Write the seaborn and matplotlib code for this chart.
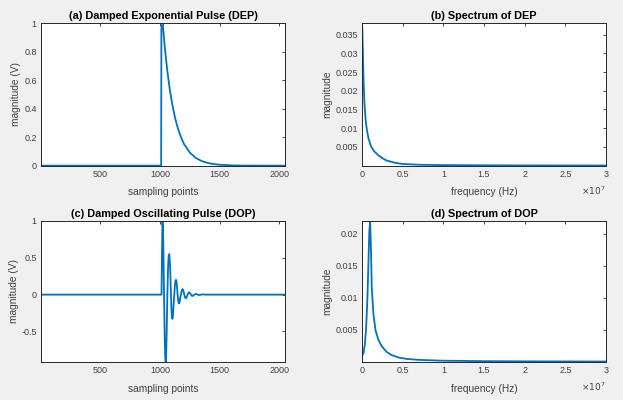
import numpy as np
import pandas as pd
import matplotlib
matplotlib.use("Agg")
import matplotlib.pyplot as plt
import seaborn as sns

# (a) damped exponential pulse
dep_x = [1, 1009, 1011, 1022, 1040, 1060, 1080, 1100, 1125, 1150, 1175, 1200,
         1250, 1300, 1350, 1400, 1450, 1500, 1600, 1700, 2048]
dep_y = [0, 0, 0.97, 1.0, 0.827, 0.670, 0.543, 0.440, 0.338, 0.260, 0.200, 0.153,
         0.091, 0.054, 0.032, 0.019, 0.011, 0.0065, 0.0023, 0.0008, 0]

# (b) spectrum of DEP (Hz)
dep_f = [0, 0.005e7, 0.01e7, 0.015e7, 0.02e7, 0.03e7, 0.045e7, 0.06e7, 0.08e7,
         0.11e7, 0.15e7, 0.2e7, 0.25e7, 0.3e7, 0.4e7, 0.5e7, 0.7e7, 1.0e7,
         1.5e7, 2.0e7, 3.0e7]
dep_mag = [0.038, 0.0355, 0.031, 0.026, 0.022, 0.0165, 0.012, 0.0095, 0.0072,
           0.0052, 0.0038, 0.0028, 0.0020, 0.0014, 0.0008, 0.00045, 0.00025,
           0.00015, 0.0001, 0.00007, 0.00005]

# (c) damped oscillating pulse
dop_x = [1, 1012, 1016, 1020, 1024, 1028, 1033, 1039, 1043, 1047, 1051, 1055,
         1061, 1067, 1072, 1077, 1082, 1086, 1091, 1096, 1100, 1104, 1108, 1113,
         1119, 1124, 1129, 1134, 1139, 1143, 1147, 1152, 1156, 1160, 1165, 1169,
         1175, 1182, 1189, 1196, 1203, 1210, 1217, 1224, 1231, 1238, 1245, 1252,
         1259, 1266, 1273, 1287, 1301, 1315, 1329, 1343, 1360, 1380, 2048]
dop_y = [0, 0, 0.55, 1.0, 0.9, 0.6, 0.0, -0.6, -0.85, -0.915, -0.8, -0.55,
         0.0, 0.38, 0.53, 0.55, 0.45, 0.3, 0.0, -0.23, -0.31, -0.33, -0.28, -0.15,
         0.0, 0.12, 0.19, 0.2, 0.16, 0.08, 0.0, -0.08, -0.115, -0.12, -0.09, -0.04,
         0.0, 0.06, 0.075, 0.05, 0.0, -0.04, -0.05, -0.03, 0.0, 0.025, 0.03, 0.02,
         0.0, -0.015, -0.018, 0.0, 0.01, 0.0, -0.006, 0.0, 0.003, 0.0, 0]

# (d) spectrum of DOP (Hz)
dop_f = [0, 0.02e7, 0.035e7, 0.05e7, 0.065e7, 0.08e7, 0.09e7, 0.1e7, 0.11e7,
         0.12e7, 0.14e7, 0.165e7, 0.2e7, 0.24e7, 0.3e7, 0.36e7, 0.45e7, 0.55e7,
         0.7e7, 1.0e7, 1.5e7, 2.0e7, 3.0e7]
dop_mag = [0.0009, 0.0015, 0.0028, 0.0052, 0.0095, 0.016, 0.0205, 0.022, 0.0175,
           0.0115, 0.0075, 0.005, 0.0035, 0.0025, 0.0016, 0.0011, 0.0007, 0.00048,
           0.00033, 0.0002, 0.00013, 0.0001, 0.00007]

sns.set_theme(style="white")
plt.rcParams['font.family'] = ['Liberation Sans', 'DejaVu Sans']

line_col = "#0072BD"
frame_col = "#262626"
text_col = "#404040"

fig = plt.figure(figsize=(6.23, 4.0), dpi=100, facecolor="#f0f0f0")
ax_a = fig.add_axes([0.0658, 0.5858, 0.3917, 0.3559])
ax_b = fig.add_axes([0.5811, 0.5858, 0.3917, 0.3559])
ax_c = fig.add_axes([0.0658, 0.0950, 0.3917, 0.3525])
ax_d = fig.add_axes([0.5811, 0.0950, 0.3917, 0.3525])

panels = [
    (ax_a, dep_x, dep_y, "(a) Damped Exponential Pulse (DEP)", "sampling points", "magnitude (V)"),
    (ax_b, dep_f, dep_mag, "(b) Spectrum of DEP", "frequency (Hz)", "magnitude"),
    (ax_c, dop_x, dop_y, "(c) Damped Oscillating Pulse (DOP)", "sampling points", "magnitude (V)"),
    (ax_d, dop_f, dop_mag, "(d) Spectrum of DOP", "frequency (Hz)", "magnitude"),
]

for ax, x, y, title, xl, yl in panels:
    df = pd.DataFrame({"x": x, "y": y})
    sns.lineplot(data=df, x="x", y="y", ax=ax, color=line_col, linewidth=1.3,
                 sort=False, estimator=None)
    ax.set_facecolor("white")
    ax.set_title(title, fontsize=7.8, fontweight="bold", color="black", pad=3)
    ax.set_xlabel(xl, fontsize=7.3, color=text_col, labelpad=6)
    ax.set_ylabel(yl, fontsize=7.3, color=text_col, labelpad=2)
    ax.tick_params(direction="in", length=2.5, width=0.6, labelsize=6.5,
                   colors=frame_col, labelcolor=text_col, top=True, right=True, pad=3)
    for s in ax.spines.values():
        s.set_color(frame_col)
        s.set_linewidth(0.7)

# time-domain panels
for ax in (ax_a, ax_c):
    ax.set_xlim(1, 2048)
    ax.set_xticks([500, 1000, 1500, 2000])
ax_a.set_ylim(0, 1)
ax_a.set_yticks([0, 0.2, 0.4, 0.6, 0.8, 1])
ax_a.set_yticklabels(["0", "0.2", "0.4", "0.6", "0.8", "1"])
ax_c.set_ylim(-0.915, 1)
ax_c.set_yticks([-0.5, 0, 0.5, 1])
ax_c.set_yticklabels(["-0.5", "0", "0.5", "1"])

# spectra
for ax in (ax_b, ax_d):
    ax.set_xlim(0, 3e7)
    ax.set_xticks([0, 0.5e7, 1e7, 1.5e7, 2e7, 2.5e7, 3e7])
    ax.set_xticklabels(["0", "0.5", "1", "1.5", "2", "2.5", "3"])
    ax.text(1.0, -0.175, r"$\times10^{7}$", transform=ax.transAxes, ha="right",
            va="center", fontsize=6.5, color=text_col)
ax_b.set_ylim(0, 0.038)
ax_b.set_yticks([0.005, 0.01, 0.015, 0.02, 0.025, 0.03, 0.035])
ax_b.set_yticklabels(["0.005", "0.01", "0.015", "0.02", "0.025", "0.03", "0.035"])
ax_d.set_ylim(0, 0.022)
ax_d.set_yticks([0.005, 0.01, 0.015, 0.02])
ax_d.set_yticklabels(["0.005", "0.01", "0.015", "0.02"])

fig.savefig("out.png", dpi=100, facecolor=fig.get_facecolor())
